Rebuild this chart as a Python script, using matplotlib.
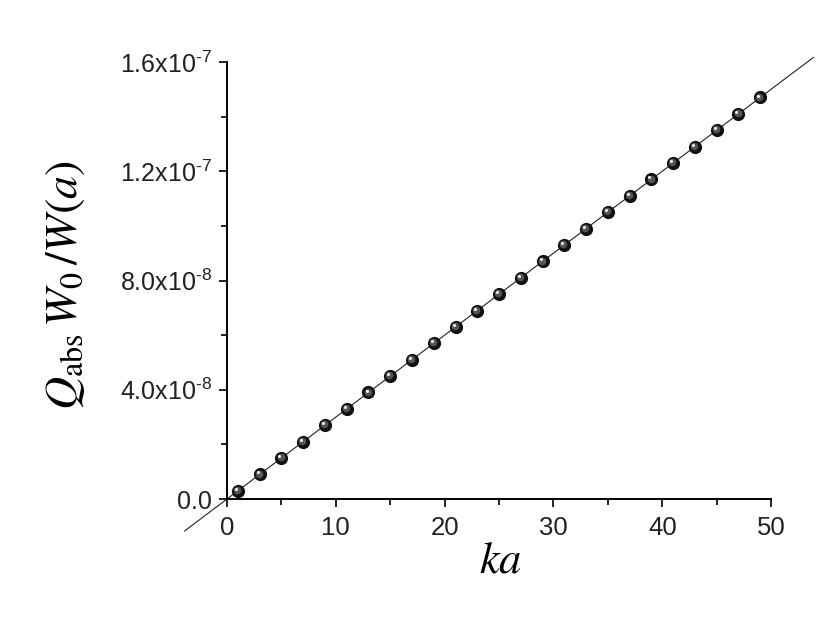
import numpy as np
import matplotlib

matplotlib.use("Agg")

import matplotlib.pyplot as plt
import matplotlib.transforms as mtransforms
from matplotlib.ticker import FixedLocator, FuncFormatter


# data
ka = [1, 3, 5, 7, 9, 11, 13, 15, 17, 19, 21, 23, 25,
      27, 29, 31, 33, 35, 37, 39, 41, 43, 45, 47, 49]
q_abs = [0.3e-8, 0.9e-8, 1.5e-8, 2.1e-8, 2.7e-8, 3.3e-8, 3.9e-8, 4.5e-8, 5.1e-8,
         5.7e-8, 6.3e-8, 6.9e-8, 7.5e-8, 8.1e-8, 8.7e-8, 9.3e-8, 9.9e-8, 10.5e-8,
         11.1e-8, 11.7e-8, 12.3e-8, 12.9e-8, 13.5e-8, 14.1e-8, 14.7e-8]

fit_x = [-3.9, 53.9]
fit_slope = 3.0e-9

x_ticks = [0, 10, 20, 30, 40, 50]
y_ticks = [0.0, 4.0e-8, 8.0e-8, 1.2e-7, 1.6e-7]
y_labels = ["0.0", r"4.0x10$^{\text{-8}}$", r"8.0x10$^{\text{-8}}$",
            r"1.2x10$^{\text{-7}}$", r"1.6x10$^{\text{-7}}$"]


plt.rcParams["font.family"] = "Liberation Sans"
plt.rcParams["mathtext.fontset"] = "custom"
plt.rcParams["mathtext.rm"] = "Liberation Sans"

fig = plt.figure(figsize=(8.3, 6.41), dpi=100)
ax = fig.add_axes([0.2735, 0.2215, 0.6555, 0.6818])

# fitted line, runs past the axes
fit_y = [fit_slope * v for v in fit_x]
ax.plot(fit_x, fit_y, color="#222222", linewidth=0.8, clip_on=False, zorder=2)

# shaded "ball" markers
ax.plot(ka, q_abs, "o", color="#111111", markersize=9.5,
        markeredgewidth=0, clip_on=False, zorder=3)
mid = mtransforms.offset_copy(ax.transData, fig=fig, x=-0.6, y=0.6, units="points")
ax.plot(ka, q_abs, "o", color="#555555", markersize=5.5,
        markeredgewidth=0, transform=mid, clip_on=False, zorder=4)
hi = mtransforms.offset_copy(ax.transData, fig=fig, x=-1.4, y=1.4, units="points")
ax.plot(ka, q_abs, "o", color="#f0f0f0", markersize=2.2,
        markeredgewidth=0, transform=hi, clip_on=False, zorder=5)

ax.set_xlim(0, 50)
ax.set_ylim(0, 1.6e-7)

ax.spines["top"].set_visible(False)
ax.spines["right"].set_visible(False)
ax.spines["left"].set_linewidth(1.4)
ax.spines["bottom"].set_linewidth(1.4)

ax.xaxis.set_major_locator(FixedLocator(x_ticks))
ax.xaxis.set_minor_locator(FixedLocator([5, 15, 25, 35, 45]))
ax.yaxis.set_major_locator(FixedLocator(y_ticks))
ax.yaxis.set_minor_locator(FixedLocator([2e-8, 6e-8, 1.0e-7, 1.4e-7]))
ax.yaxis.set_major_formatter(FuncFormatter(lambda v, pos: y_labels[pos]))

ax.tick_params(which="major", direction="out", length=6, width=1.4, colors="#222222")
ax.tick_params(which="minor", direction="out", length=4.5, width=1.4, colors="#222222")
ax.tick_params(axis="x", which="major", labelsize=18.5, pad=6)
ax.tick_params(axis="y", which="major", labelsize=18, pad=5)

fig.text(0.603, 0.125, r"$ka$", fontsize=32, ha="center", va="center",
         math_fontfamily="stix")
fig.text(0.078, 0.555, r"$Q_{\mathrm{abs}}\,W_0\,/W(a)$", fontsize=33,
         rotation=90, ha="center", va="center", math_fontfamily="stix")

fig.savefig("out.png", dpi=100)
